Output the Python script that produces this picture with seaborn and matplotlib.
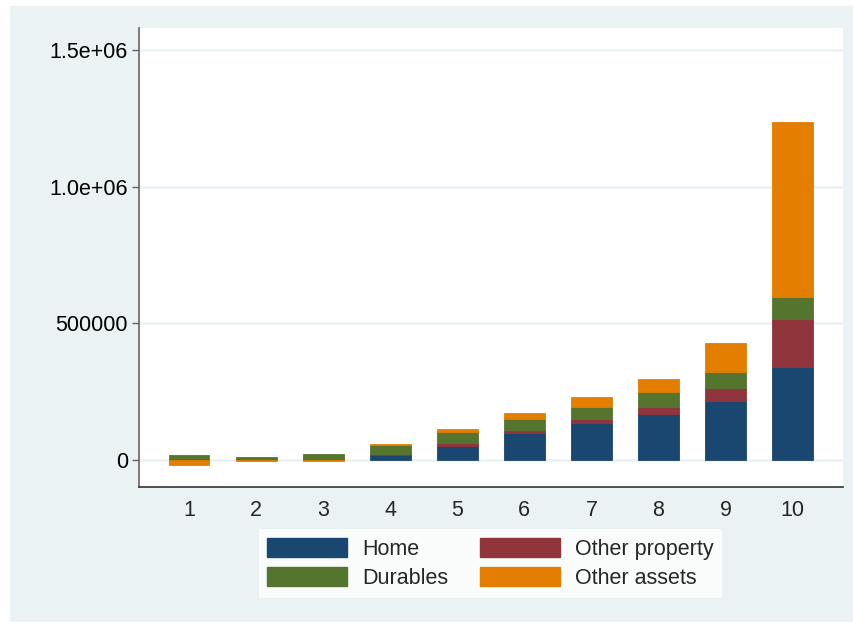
import numpy as np
import pandas as pd
import matplotlib
matplotlib.use("Agg")
import matplotlib.pyplot as plt
import seaborn as sns
from matplotlib.patches import Rectangle, Patch

# ---- data ----
deciles = ["1", "2", "3", "4", "5", "6", "7", "8", "9", "10"]
home = [2000, 500, 500, 18000, 52000, 97500, 135000, 169000, 216000, 340000]
other_property = [1000, 0, 0, 5000, 9000, 13500, 15000, 25000, 48500, 175000]
durables = [14000, 10000, 21000, 31000, 42500, 39000, 44000, 53500, 57500, 82000]
other_assets = [-18000, -2500, -2500, 4500, 9500, 22000, 35000, 48500, 106000, 639000]
series_names = ["Home", "Other property", "Durables", "Other assets"]
ytick_vals = [0, 500000, 1000000, 1500000]
ytick_labels = ["0", "500000", "1.0e+06", "1.5e+06"]

colors = {"Home": "#1A476F", "Other property": "#90353B",
          "Durables": "#55752F", "Other assets": "#E37E00"}
BG = "#EAF2F3"

sns.set_theme(style="white")
plt.rcParams["font.family"] = ["Liberation Sans", "DejaVu Sans"]
FS = 15.5

fig = plt.figure(figsize=(8.54, 6.23), dpi=100, facecolor="white")
fig.patches.append(Rectangle((10 / 854, 1 - 622 / 623), 1 - 10 / 854, (622 - 6) / 623,
                             transform=fig.transFigure, facecolor=BG, edgecolor="none",
                             zorder=-10))
ax = fig.add_axes([139 / 854, 1 - 487 / 623, (843 - 139) / 854, (487 - 28) / 623])
ax.set_facecolor("white")

series = {"Home": home, "Other property": other_property,
          "Durables": durables, "Other assets": other_assets}
pos_cum = np.zeros(len(deciles))
neg_cum = np.zeros(len(deciles))
for name in series_names:
    vals = np.array(series[name], dtype=float)
    bottoms = np.where(vals >= 0, pos_cum, neg_cum)
    df = pd.DataFrame({"decile": deciles, "value": vals})
    sns.barplot(data=df, x="decile", y="value", order=deciles, color=colors[name],
                saturation=1, width=0.61, errorbar=None, bottom=bottoms,
                edgecolor=colors[name], linewidth=0.6, ax=ax, zorder=3)
    pos_cum = pos_cum + np.where(vals >= 0, vals, 0)
    neg_cum = neg_cum + np.where(vals < 0, vals, 0)

ax.set_xlim(-0.745, 9.75)
ax.set_ylim(-98800, 1580500)
ax.set_yticks(ytick_vals)
ax.set_yticklabels(ytick_labels)
ax.set_xlabel("")
ax.set_ylabel("")
for y in ytick_vals:
    ax.axhline(y, color=BG, linewidth=1.8, zorder=1)

for s in ["top", "right"]:
    ax.spines[s].set_visible(False)
ax.spines["left"].set_color("#666666")
ax.spines["bottom"].set_color("#333333")
ax.spines["left"].set_linewidth(1.2)
ax.spines["bottom"].set_linewidth(1.2)
ax.tick_params(axis="y", left=True, length=5, width=1, color="#666666",
               labelsize=FS, pad=3, colors="#000000")
ax.tick_params(axis="y", color="#666666")
ax.tick_params(axis="x", bottom=False, length=0, labelsize=FS, pad=9)

handles = [Patch(facecolor=colors[n], edgecolor=colors[n]) for n in
           ["Home", "Durables", "Other property", "Other assets"]]
labels = ["Home", "Durables", "Other property", "Other assets"]
leg = fig.legend(handles, labels, ncol=2, loc="center",
                 bbox_to_anchor=(490.5 / 854, 1 - 563.4 / 623),
                 frameon=True, fancybox=False, fontsize=FS,
                 handlelength=3.7, handleheight=1.0, handletextpad=0.7,
                 columnspacing=1.5, labelspacing=0.35, borderpad=0.4)
leg.get_frame().set_facecolor("white")
leg.get_frame().set_edgecolor("white")
leg.get_frame().set_linewidth(0)

fig.savefig("out.png", dpi=100, facecolor="white")
